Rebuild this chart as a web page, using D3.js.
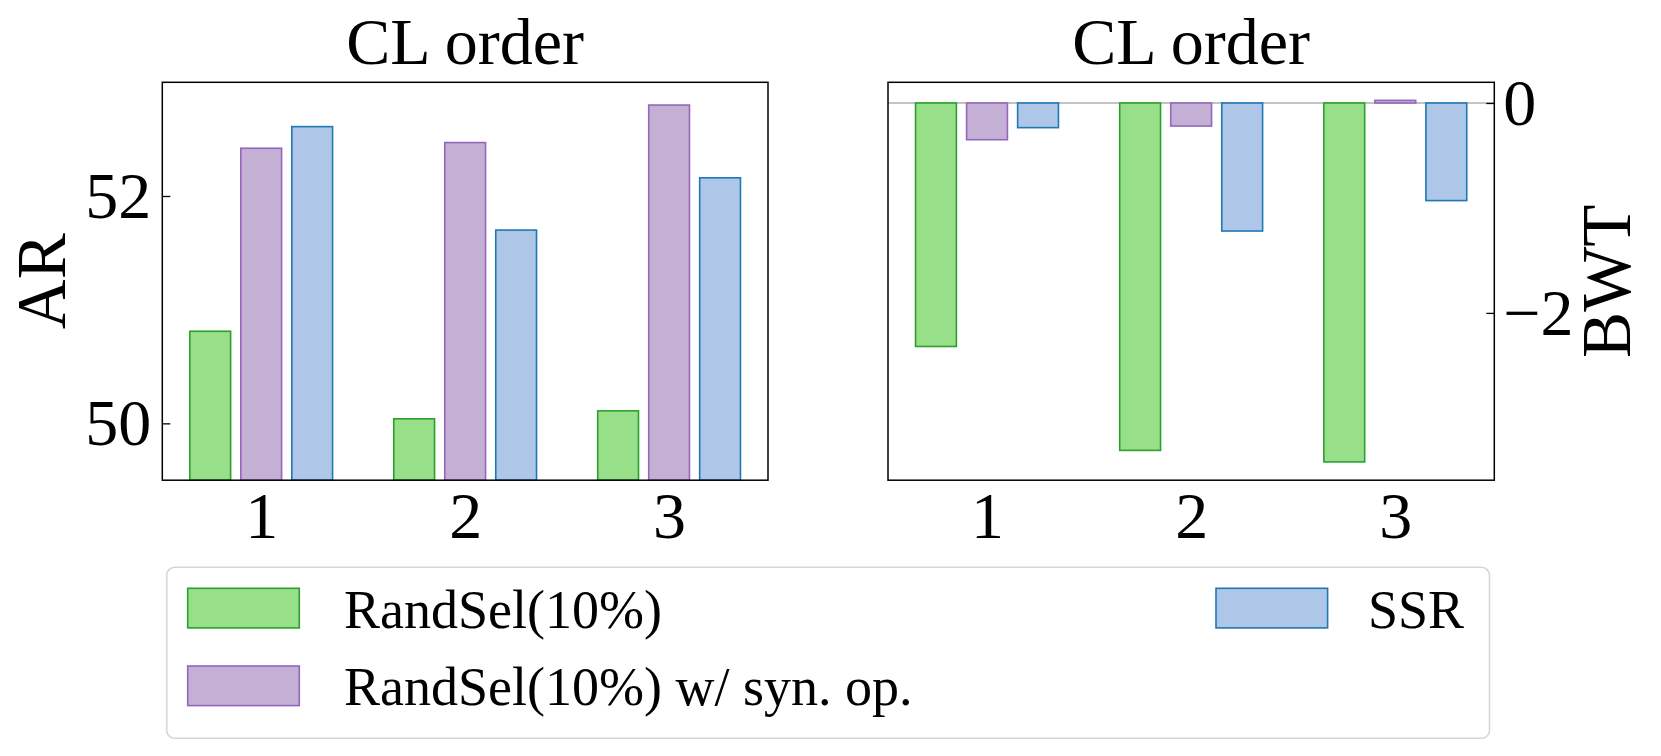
<!DOCTYPE html>
<html>
<head>
<meta charset="utf-8">
<script src="https://cdn.jsdelivr.net/npm/d3@7"></script>
<style>
  html, body { margin: 0; padding: 0; background: #fff; }
  svg { display: block; font-family: "Liberation Serif", "Times New Roman", serif; }
</style>
</head>
<body>
<svg id="chart" width="1661" height="756"></svg>
<script>
// ---- data ----
const categories = [1, 2, 3];
const seriesNames = ["RandSel(10%)", "RandSel(10%) w/ syn. op.", "SSR"];
const arValues = [
  [50.81, 50.04, 50.11],   // RandSel(10%)
  [52.42, 52.47, 52.80],   // RandSel(10%) w/ syn. op.
  [52.61, 51.70, 52.16]    // SSR
];
const bwtValues = [
  [-2.32, -3.31, -3.42],
  [-0.35, -0.22, 0.025],
  [-0.235, -1.22, -0.93]
];
const arTicks = [50, 52];
const bwtTicks = [0, -2];
const panelTitles = ["CL order", "CL order"];
const fills = ["#98df8a", "#c5b0d5", "#aec7e8"];
const edges = ["#2ca02c", "#9467bd", "#1f77b4"];

// ---- layout ----
const svg = d3.select("#chart");
const FONT_TICK = 66, FONT_LABEL = 69, FONT_TITLE = 66, FONT_LEG = 54;
const plotTop = 82.3, plotBottom = 480.2;
const panels = [
  { x0: 162.3, x1: 768, values: arValues, domain: [49.5, 53.0], ticks: arTicks, label: "AR", side: "left" },
  { x0: 888, x1: 1494.3, values: bwtValues, domain: [-3.594, 0.197], ticks: bwtTicks, label: "BWT", side: "right" }
];
const offsets = [-0.25, 0, 0.25];
const barW = 0.2;

panels.forEach((p, pi) => {
  const x = d3.scaleLinear().domain([0.515, 3.485]).range([p.x0, p.x1]);
  const y = d3.scaleLinear().domain(p.domain).range([plotBottom, plotTop]);
  const g = svg.append("g");

  const clipId = "clip" + pi;
  svg.append("clipPath").attr("id", clipId)
    .append("rect").attr("x", p.x0).attr("y", plotTop).attr("width", p.x1 - p.x0).attr("height", plotBottom - plotTop);

  const plot = g.append("g").attr("clip-path", `url(#${clipId})`);

  if (p.side === "right") {
    plot.append("line")
      .attr("x1", p.x0).attr("x2", p.x1)
      .attr("y1", y(0)).attr("y2", y(0))
      .attr("stroke", "#888").attr("stroke-width", 1.2);
  }

  p.values.forEach((vals, si) => {
    plot.selectAll(null).data(vals.map((v, i) => ({ c: categories[i], v })))
      .enter().append("rect")
      .attr("x", d => x(d.c + offsets[si] - barW / 2))
      .attr("width", d => x(d.c + offsets[si] + barW / 2) - x(d.c + offsets[si] - barW / 2))
      .attr("y", d => p.side === "left" ? y(d.v) : y(Math.max(0, d.v)))
      .attr("height", d => p.side === "left" ? (plotBottom - y(d.v)) : Math.abs(y(d.v) - y(0)))
      .attr("fill", fills[si])
      .attr("stroke", edges[si])
      .attr("stroke-width", 1.6);
  });

  const xa = g.append("g").attr("transform", `translate(0,${plotBottom})`)
    .call(d3.axisBottom(x).tickValues(categories).tickFormat(d3.format("d")).tickSize(0).tickPadding(11));
  xa.select(".domain").remove();
  xa.selectAll("text").attr("font-size", FONT_TICK).attr("font-family", "Liberation Serif").attr("fill", "#000");

  if (p.side === "left") {
    const ya = g.append("g").attr("transform", `translate(${p.x0},0)`)
      .call(d3.axisLeft(y).tickValues(p.ticks).tickFormat(d3.format("d")).tickSizeInner(-8).tickSizeOuter(0).tickPadding(11));
    ya.select(".domain").remove();
    ya.selectAll("line").attr("stroke", "#000").attr("stroke-width", 1.3);
    ya.selectAll("text").attr("font-size", FONT_TICK).attr("font-family", "Liberation Serif").attr("fill", "#000");
    g.append("text")
      .attr("transform", `translate(65,${(plotTop + plotBottom) / 2}) rotate(-90)`)
      .attr("text-anchor", "middle")
      .attr("font-size", FONT_LABEL)
      .text(p.label);
  } else {
    const ya = g.append("g").attr("transform", `translate(${p.x1},0)`)
      .call(d3.axisRight(y).tickValues(p.ticks).tickFormat(d3.format("d")).tickSizeInner(-8).tickSizeOuter(0).tickPadding(9));
    ya.select(".domain").remove();
    ya.selectAll("line").attr("stroke", "#000").attr("stroke-width", 1.3);
    ya.selectAll("text").attr("font-size", FONT_TICK).attr("font-family", "Liberation Serif").attr("fill", "#000");
    g.append("text")
      .attr("transform", `translate(1630,${(plotTop + plotBottom) / 2}) rotate(-90)`)
      .attr("text-anchor", "middle")
      .attr("font-size", FONT_LABEL)
      .text(p.label);
  }

  g.append("rect")
    .attr("x", p.x0).attr("y", plotTop)
    .attr("width", p.x1 - p.x0).attr("height", plotBottom - plotTop)
    .attr("fill", "none").attr("stroke", "#000").attr("stroke-width", 1.5);

  g.append("text")
    .attr("x", (p.x0 + p.x1) / 2).attr("y", 64)
    .attr("text-anchor", "middle")
    .attr("font-size", FONT_TITLE)
    .text(panelTitles[pi]);
});

// ---- legend ----
const leg = svg.append("g");
leg.append("rect")
  .attr("x", 166.7).attr("y", 567.3)
  .attr("width", 1489.5 - 166.7).attr("height", 738.3 - 567.3)
  .attr("rx", 8).attr("ry", 8)
  .attr("fill", "#fff").attr("stroke", "#d6d6d6").attr("stroke-width", 1.6);

const legendItems = [
  { name: seriesNames[0], si: 0, px: 187.7, py: 588.3, tx: 344, ty: 627.7 },
  { name: seriesNames[1], si: 1, px: 187.7, py: 666, tx: 344, ty: 705.4 },
  { name: seriesNames[2], si: 2, px: 1216, py: 588.3, tx: 1368, ty: 627.7 }
];
legendItems.forEach(it => {
  leg.append("rect")
    .attr("x", it.px).attr("y", it.py)
    .attr("width", 111.6).attr("height", 39.6)
    .attr("fill", fills[it.si]).attr("stroke", edges[it.si]).attr("stroke-width", 1.6);
  leg.append("text")
    .attr("x", it.tx).attr("y", it.ty)
    .attr("font-size", FONT_LEG)
    .text(it.name);
});
</script>
</body>
</html>
